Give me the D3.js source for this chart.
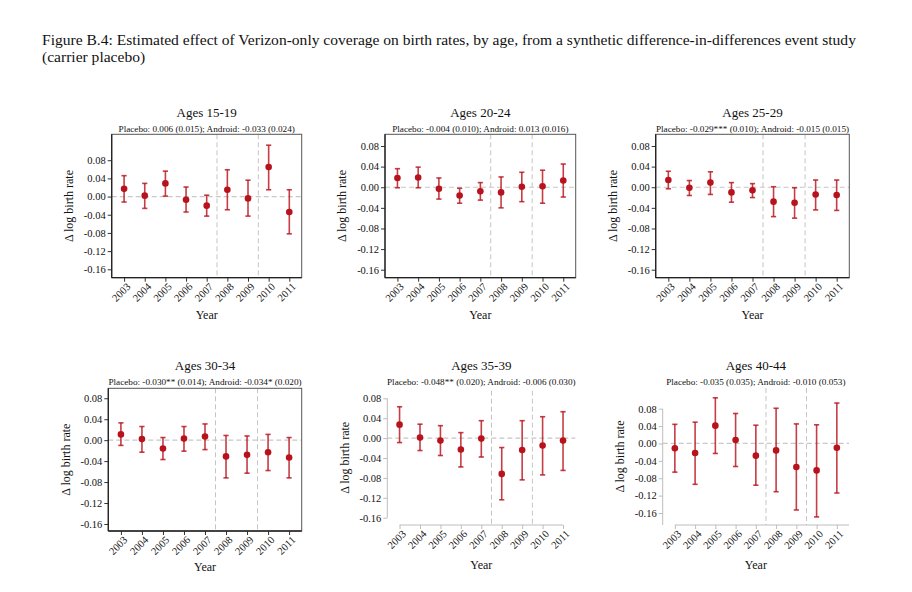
<!DOCTYPE html>
<html>
<head>
<meta charset="utf-8">
<script src="https://cdn.jsdelivr.net/npm/d3@7"></script>
<style>
  html, body { margin: 0; padding: 0; background: #fff; }
  svg { display: block; }
  text { font-family: "Liberation Serif", "Times New Roman", serif; fill: #111; }
</style>
</head>
<body>
<svg id="chart" width="912" height="592"></svg>
<script>
// ---------------- DATA ----------------
const years = [2003, 2004, 2005, 2006, 2007, 2008, 2009, 2010, 2011];
const eventLines = [2007.5, 2009.5];
const yTicks = [0.08, 0.04, 0.00, -0.04, -0.08, -0.12, -0.16];
const yTickLabels = ["0.08", "0.04", "0.00", "-0.04", "-0.08", "-0.12", "-0.16"];

const figureTitle = [
  "Figure B.4: Estimated effect of Verizon-only coverage on birth rates, by age, from a synthetic difference-in-differences event study",
  "(carrier placebo)"
];
const panelTitles = ["Ages 15-19", "Ages 20-24", "Ages 25-29", "Ages 30-34", "Ages 35-39", "Ages 40-44"];
const panelNotes = [
  "Placebo: 0.006 (0.015); Android: -0.033 (0.024)",
  "Placebo: -0.004 (0.010); Android: 0.013 (0.016)",
  "Placebo: -0.029*** (0.010); Android: -0.015 (0.015)",
  "Placebo: -0.030** (0.014); Android: -0.034* (0.020)",
  "Placebo: -0.048** (0.020); Android: -0.006 (0.030)",
  "Placebo: -0.035 (0.035); Android: -0.010 (0.053)"
];
const yLabel = "\u0394 log birth rate";
const xLabel = "Year";

// point estimates and 95% CI bounds, by age group
const est1519 = [0.017, 0.002, 0.029, -0.007, -0.020, 0.015, -0.004, 0.065, -0.034];
const lo1519  = [-0.012, -0.026, 0.001, -0.034, -0.043, -0.029, -0.043, 0.015, -0.082];
const hi1519  = [0.046, 0.029, 0.056, 0.021, 0.003, 0.059, 0.036, 0.113, 0.015];

const est2024 = [0.018, 0.019, -0.003, -0.016, -0.008, -0.010, 0.001, 0.002, 0.013];
const lo2024  = [-0.001, -0.001, -0.023, -0.031, -0.025, -0.040, -0.028, -0.031, -0.019];
const hi2024  = [0.036, 0.039, 0.018, -0.002, 0.009, 0.020, 0.029, 0.033, 0.045];

const est2529 = [0.014, -0.001, 0.009, -0.010, -0.006, -0.028, -0.030, -0.014, -0.015];
const lo2529  = [-0.003, -0.016, -0.014, -0.029, -0.020, -0.057, -0.060, -0.044, -0.045];
const hi2529  = [0.031, 0.013, 0.030, 0.009, 0.007, 0.001, -0.001, 0.014, 0.014];

const est3034 = [0.011, 0.002, -0.016, 0.003, 0.007, -0.031, -0.028, -0.023, -0.033];
const lo3034  = [-0.010, -0.023, -0.037, -0.021, -0.018, -0.072, -0.063, -0.058, -0.072];
const hi3034  = [0.033, 0.026, 0.005, 0.026, 0.031, 0.009, 0.008, 0.011, 0.005];

const est3539 = [0.027, 0.001, -0.005, -0.023, -0.001, -0.072, -0.024, -0.015, -0.005];
const lo3539  = [-0.009, -0.025, -0.035, -0.058, -0.038, -0.124, -0.084, -0.074, -0.065];
const hi3539  = [0.063, 0.028, 0.025, 0.011, 0.035, -0.019, 0.035, 0.043, 0.053];

const est4044 = [-0.011, -0.022, 0.041, 0.008, -0.028, -0.016, -0.054, -0.062, -0.010];
const lo4044  = [-0.066, -0.094, -0.023, -0.053, -0.096, -0.111, -0.153, -0.169, -0.114];
const hi4044  = [0.044, 0.049, 0.105, 0.069, 0.042, 0.081, 0.045, 0.043, 0.093];

const panelEst = [est1519, est2024, est2529, est3034, est3539, est4044];
const panelLo  = [lo1519, lo2024, lo2529, lo3034, lo3539, lo4044];
const panelHi  = [hi1519, hi2024, hi2529, hi3034, hi3539, hi4044];

// ---------------- LAYOUT ----------------
const xDomain = [2002.4, 2011.6];
const layout = [
  { x: 111.7, y: 134.3, w: 190.0, h: 143.4, yd: [-0.1785, 0.137], frame: "box",   titleY: 117, noteY: 131.5, xlabY: 318.5 },
  { x: 385.0, y: 134.3, w: 190.7, h: 143.4, yd: [-0.1755, 0.1027], frame: "box",  titleY: 117, noteY: 131.5, xlabY: 318.5 },
  { x: 655.7, y: 134.3, w: 193.6, h: 143.4, yd: [-0.1755, 0.1027], frame: "box",  titleY: 117, noteY: 131.5, xlabY: 318.5 },
  { x: 108.3, y: 388.3, w: 193.4, h: 142.7, yd: [-0.1734, 0.099], frame: "box",   titleY: 370, noteY: 384.5, xlabY: 571 },
  { x: 387.3, y: 390.7, w: 188.0, h: 134.3, yd: [-0.1747, 0.0953], frame: "range", titleY: 370, noteY: 384.5, xlabY: 568.5 },
  { x: 662.7, y: 388.0, w: 186.3, h: 137.0, yd: [-0.1876, 0.1276], frame: "open",  titleY: 370, noteY: 384.5, xlabY: 568.5 }
];

const markColor = "#b8121c";
const svg = d3.select("#chart");
svg.append("rect").attr("width", 912).attr("height", 592).attr("fill", "#fff");

// ---------------- FIGURE TITLE ----------------
const t1 = svg.append("text").attr("x", 42).attr("y", 45).attr("font-size", 14).text(figureTitle[0]);
const targetW = 815;
const fs = 14 * targetW / t1.node().getComputedTextLength();
t1.attr("font-size", fs);
svg.append("text").attr("x", 42).attr("y", 61.5).attr("font-size", fs).text(figureTitle[1]);

// ---------------- PANELS ----------------
layout.forEach((p, i) => {
  const g = svg.append("g");
  const x = d3.scaleLinear().domain(xDomain).range([p.x, p.x + p.w]);
  const y = d3.scaleLinear().domain(p.yd).range([p.y + p.h, p.y]);
  const bottom = p.y + p.h;
  const light = p.frame !== "box";
  const axisCol = light ? "#bdbdbd" : "#333";

  // reference lines
  g.append("line")
    .attr("x1", p.x).attr("x2", p.x + p.w)
    .attr("y1", y(0)).attr("y2", y(0))
    .attr("stroke", "#c8c8c8").attr("stroke-width", 1.2).attr("stroke-dasharray", "5,3");
  g.selectAll(".ev").data(eventLines).join("line")
    .attr("x1", d => x(d)).attr("x2", d => x(d))
    .attr("y1", p.y).attr("y2", bottom)
    .attr("stroke", "#c4c4c4").attr("stroke-width", 1).attr("stroke-dasharray", "5,3");

  // frame
  if (p.frame === "box") {
    g.append("rect").attr("x", p.x).attr("y", p.y).attr("width", p.w).attr("height", p.h)
      .attr("fill", "none").attr("stroke", "#555").attr("stroke-width", 1);
  }

  // y axis
  const ya = d3.axisLeft(y).tickValues(yTicks).tickFormat((d, k) => yTickLabels[k]).tickSize(4).tickPadding(2);
  const yg = g.append("g").attr("transform", `translate(${p.x},0)`).call(ya);
  yg.select(".domain").remove();
  yg.selectAll(".tick line").attr("stroke", axisCol);
  yg.selectAll(".tick text").attr("font-family", "Liberation Serif").attr("font-size", 10.5).attr("fill", "#111");

  // x axis
  const xa = d3.axisBottom(x).tickValues(years).tickFormat(d3.format("d")).tickSize(4).tickPadding(2);
  const xg = g.append("g").attr("transform", `translate(0,${bottom})`).call(xa);
  xg.select(".domain").remove();
  xg.selectAll(".tick line").attr("stroke", axisCol);
  xg.selectAll(".tick text")
    .attr("font-family", "Liberation Serif").attr("font-size", 10.5).attr("fill", "#111")
    .attr("text-anchor", "end")
    .attr("dy", null).attr("y", null)
    .attr("transform", "translate(4,7) rotate(-45)")
    .attr("dy", "0.35em");

  // axis lines
  if (p.frame === "box") {
    g.append("line").attr("x1", p.x).attr("x2", p.x).attr("y1", p.y).attr("y2", bottom).attr("stroke", "#222").attr("stroke-width", 1.3);
    g.append("line").attr("x1", p.x).attr("x2", p.x + p.w).attr("y1", bottom).attr("y2", bottom).attr("stroke", "#222").attr("stroke-width", 1.3);
  } else if (p.frame === "range") {
    g.append("line").attr("x1", p.x).attr("x2", p.x).attr("y1", y(yTicks[0])).attr("y2", y(yTicks[yTicks.length - 1])).attr("stroke", axisCol);
    g.append("line").attr("x1", x(years[0])).attr("x2", x(years[years.length - 1])).attr("y1", bottom).attr("y2", bottom).attr("stroke", axisCol);
  } else {
    g.append("line").attr("x1", p.x).attr("x2", p.x).attr("y1", y(yTicks[0])).attr("y2", bottom).attr("stroke", axisCol);
    g.append("line").attr("x1", x(years[0])).attr("x2", p.x + p.w).attr("y1", bottom).attr("y2", bottom).attr("stroke", axisCol);
  }

  // data
  const rows = years.map((yr, k) => ({ yr, est: panelEst[i][k], lo: panelLo[i][k], hi: panelHi[i][k] }));
  const cap = 2.6;
  const eb = g.append("g").attr("stroke", markColor).attr("stroke-width", 1.6).attr("stroke-opacity", 0.82);
  eb.selectAll(".w").data(rows).join("line")
    .attr("x1", d => x(d.yr)).attr("x2", d => x(d.yr)).attr("y1", d => y(d.lo)).attr("y2", d => y(d.hi));
  eb.selectAll(".ct").data(rows).join("line")
    .attr("x1", d => x(d.yr) - cap).attr("x2", d => x(d.yr) + cap).attr("y1", d => y(d.hi)).attr("y2", d => y(d.hi));
  eb.selectAll(".cb").data(rows).join("line")
    .attr("x1", d => x(d.yr) - cap).attr("x2", d => x(d.yr) + cap).attr("y1", d => y(d.lo)).attr("y2", d => y(d.lo));
  g.selectAll(".pt").data(rows).join("circle")
    .attr("cx", d => x(d.yr)).attr("cy", d => y(d.est)).attr("r", 3.3).attr("fill", markColor);

  // titles
  const cx = p.x + p.w / 2;
  g.append("text").attr("x", cx).attr("y", p.titleY).attr("text-anchor", "middle").attr("font-size", 13).text(panelTitles[i]);
  g.append("text").attr("x", cx).attr("y", p.noteY).attr("text-anchor", "middle").attr("font-size", 9.2).text(panelNotes[i]);
  g.append("text").attr("x", cx).attr("y", p.xlabY).attr("text-anchor", "middle").attr("font-size", 12).text(xLabel);
  g.append("text").attr("transform", `translate(${p.x - 43},${p.y + p.h / 2}) rotate(-90)`)
    .attr("text-anchor", "middle").attr("dy", "0.35em").attr("font-size", 12).text(yLabel);
});
</script>
</body>
</html>
